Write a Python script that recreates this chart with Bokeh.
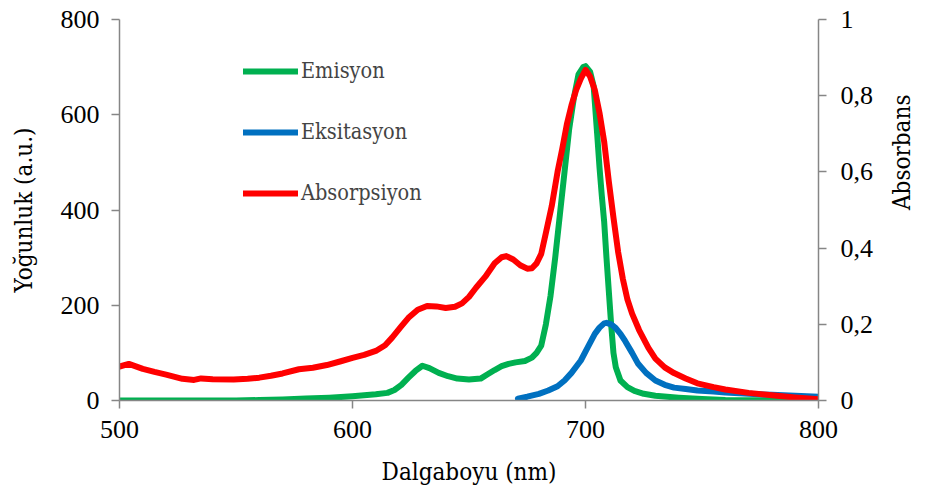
import math
from bokeh.plotting import figure
from bokeh.models import Range1d, LinearAxis, FixedTicker, CustomJSTickFormatter, Legend, LegendItem, Title
from bokeh.embed import file_html
from bokeh.resources import INLINE

# ---- data ----
em_nm = [500, 550, 560, 570, 580, 590, 600, 610, 615, 618, 621, 624, 627, 630, 633, 637, 641, 645, 650,
         655, 658, 661, 664, 667, 670, 674, 677, 679, 681, 683, 685, 687, 689, 691, 693, 695, 697, 699,
         700, 702, 703.5, 705, 706, 707, 708, 709, 710, 711, 712, 713, 715, 718, 721, 725, 730, 740, 750,
         760, 800]
em_val = [0, 0, 1, 2, 4, 6, 9, 13, 16, 22, 33, 48, 62, 73, 68, 58, 51, 46, 44,
          46, 55, 64, 72, 77, 80, 83, 90, 100, 115, 160, 220, 300, 390, 480, 570, 635, 685, 700,
          702, 690, 660, 560, 490, 430, 376, 300, 230, 160, 100, 70, 42, 28, 20, 14, 10, 6, 3,
          1, 0]

ex_nm = [671, 675, 680, 684, 688, 691, 694, 698, 701, 704, 706, 708, 709, 711, 713, 715, 717, 720, 722.6,
         726, 730, 734, 738, 743, 748, 755, 760, 770, 780, 790, 800]
ex_val = [4, 8, 14, 21, 30, 42, 58, 84, 112, 140, 153, 162, 163, 160, 152, 140, 125, 100, 77,
          58, 42, 33, 27, 24, 21, 19, 17, 14, 12, 10, 8]

ab_nm = [500, 504, 510, 515, 520, 527, 532, 535, 540, 549, 555, 560, 565, 570, 577, 583, 589, 595, 600,
         605, 610, 614, 617, 621, 624, 628, 632, 636, 640, 644, 647, 650, 653, 657, 661, 664, 666, 669,
         672, 675, 677, 679, 681, 683, 685.5, 688, 690, 692, 694, 696, 698, 700, 702, 704, 706, 708, 710,
         712, 714, 716, 718, 720, 723, 727, 730, 734, 738, 743, 748, 755, 760, 770, 780, 790, 800]
ab_val = [0.089, 0.096, 0.083, 0.075, 0.068, 0.057, 0.054, 0.058, 0.056, 0.055, 0.057, 0.060, 0.065,
          0.071, 0.082, 0.086, 0.093, 0.103, 0.112, 0.120, 0.130, 0.145, 0.165, 0.195, 0.217, 0.238,
          0.248, 0.247, 0.243, 0.246, 0.255, 0.272, 0.296, 0.325, 0.360, 0.376, 0.379, 0.370, 0.355,
          0.346, 0.347, 0.360, 0.385, 0.440, 0.510, 0.600, 0.660, 0.725, 0.775, 0.815, 0.845, 0.868,
          0.850, 0.815, 0.755, 0.680, 0.575, 0.480, 0.390, 0.320, 0.265, 0.228, 0.185, 0.138, 0.110,
          0.087, 0.072, 0.058, 0.045, 0.035, 0.029, 0.020, 0.014, 0.008, 0.003]

x_ticks = [500, 600, 700, 800]
left_ticks = [0, 200, 400, 600, 800]
right_ticks = [0, 0.2, 0.4, 0.6, 0.8, 1]
series_names = ["Emisyon", "Eksitasyon", "Absorpsiyon"]
colors = ["#00B050", "#0070C0", "#FF0000"]

TICK_FONT = "Liberation Serif"
TITLE_FONT = "DejaVu Serif Condensed"
AXIS_COLOR = "#868686"

p = figure(width=933, height=493, output_backend="svg", toolbar_location=None,
           x_range=Range1d(500, 800), y_range=Range1d(0, 800),
           min_border_left=119, min_border_right=112, min_border_top=19, min_border_bottom=93)
p.extra_y_ranges = {"abs": Range1d(0, 1)}
p.outline_line_color = None
p.xgrid.visible = False
p.ygrid.visible = False
p.background_fill_color = "white"
p.border_fill_color = "white"

LW = 6
r_em = p.line(em_nm, em_val, line_color=colors[0], line_width=LW, line_cap="round", line_join="round")
r_ex = p.line(ex_nm, ex_val, line_color=colors[1], line_width=LW, line_cap="round", line_join="round")
r_ab = p.line(ab_nm, ab_val, line_color=colors[2], line_width=LW, line_cap="round", line_join="round",
              y_range_name="abs")

right = LinearAxis(y_range_name="abs")
p.add_layout(right, "right")

for ax in [p.xaxis[0], p.yaxis[0], right]:
    ax.axis_line_color = AXIS_COLOR
    ax.axis_line_width = 1.5
    ax.major_tick_line_color = AXIS_COLOR
    ax.major_tick_line_width = 1.5
    ax.major_tick_in = 0
    ax.major_tick_out = 8
    ax.minor_tick_line_color = None
    ax.major_label_text_font = TICK_FONT
    ax.major_label_text_font_size = "26px"
    ax.major_label_text_color = "black"
    ax.axis_label_text_font = TITLE_FONT
    ax.axis_label_text_font_size = "24px"
    ax.axis_label_text_font_style = "normal"
    ax.axis_label_text_color = "black"

p.xaxis[0].ticker = FixedTicker(ticks=x_ticks)
p.yaxis[0].ticker = FixedTicker(ticks=left_ticks)
right.ticker = FixedTicker(ticks=right_ticks)
right.formatter = CustomJSTickFormatter(code="return tick.toString().replace('.', ',');")

p.xaxis[0].axis_label = "Dalgaboyu (nm)"
p.yaxis[0].axis_label = "Yoğunluk (a.u.)"
p.xaxis[0].major_label_standoff = 12
p.yaxis[0].major_label_standoff = 12
right.major_label_standoff = 14
p.xaxis[0].axis_label_standoff = 17
p.yaxis[0].axis_label_standoff = 20

# right title reads bottom-to-top, as in the reference
try:
    right.axis_label_orientation = math.pi / 2
    right.axis_label = "Absorbans"
    right.axis_label_standoff = 26
except Exception:
    p.add_layout(Title(text="Absorbans", align="center", text_font=TITLE_FONT,
                       text_font_size="24px", text_font_style="normal", text_color="black"), "right")

legend = Legend(items=[LegendItem(label=series_names[0], renderers=[r_em]),
                       LegendItem(label=series_names[1], renderers=[r_ex]),
                       LegendItem(label=series_names[2], renderers=[r_ab])],
                location=(124, 195), orientation="vertical",
                glyph_width=55, glyph_height=24, label_height=24, spacing=36,
                label_standoff=3, padding=0, margin=0,
                border_line_color=None, background_fill_alpha=0,
                label_text_font=TITLE_FONT, label_text_line_height=1.0,
                label_text_font_size="21.5px")
p.add_layout(legend, "center")

open("out.html", "w").write(file_html(p, INLINE))
